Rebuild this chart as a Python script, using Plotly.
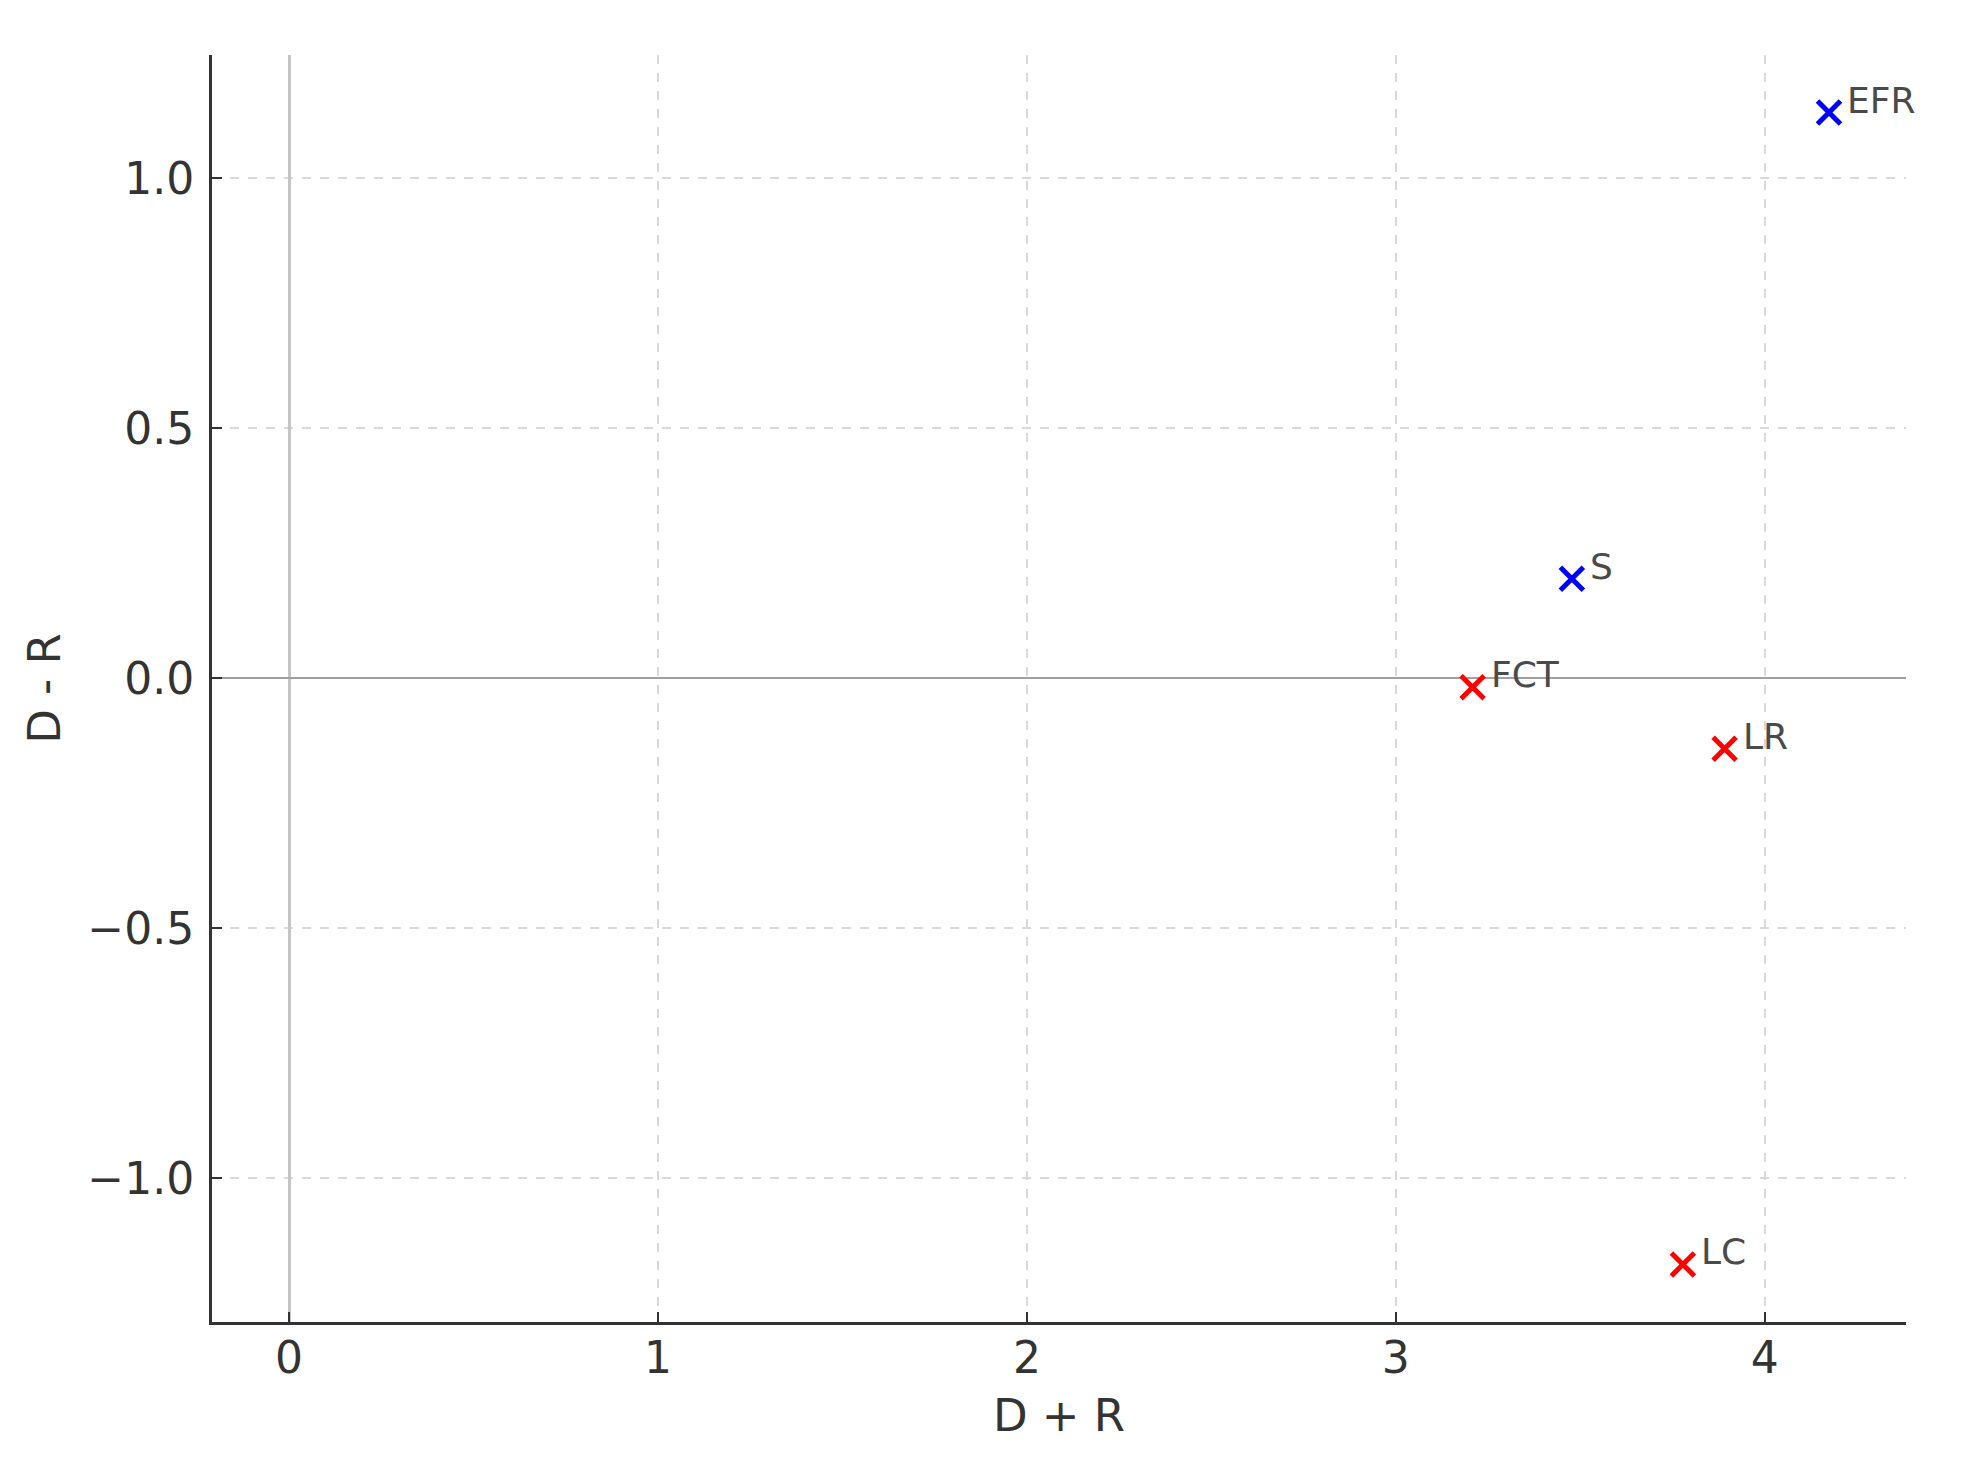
import plotly.graph_objects as go

# D+R / D-R values
labels = ["EFR", "S", "FCT", "LR", "LC"]
d_plus_r = [4.174, 3.477, 3.208, 3.891, 3.778]
d_minus_r = [1.131, 0.199, -0.018, -0.141, -1.172]
colors = ["blue", "blue", "red", "red", "red"]

x_ticks = [0, 1, 2, 3, 4]
y_ticks = [-1.0, -0.5, 0.0, 0.5, 1.0]
y_tick_text = ["\u22121.0", "\u22120.5", "0.0", "0.5", "1.0"]

# matplotlib style 5% margins
xmin, xmax = min(d_plus_r + [0]), max(d_plus_r)
ymin, ymax = min(d_minus_r), max(d_minus_r)
xr = [xmin - 0.05 * (xmax - xmin), xmax + 0.05 * (xmax - xmin)]
yr = [ymin - 0.05 * (ymax - ymin), ymax + 0.05 * (ymax - ymin)]

fig = go.Figure()
fig.add_trace(go.Scatter(
    x=d_plus_r, y=d_minus_r, mode="markers",
    marker=dict(symbol="x-thin", size=23, color=colors,
                line=dict(width=5, color=colors)),
    showlegend=False, hoverinfo="skip"))

for lab, x, y in zip(labels, d_plus_r, d_minus_r):
    fig.add_annotation(x=x, y=y, text=lab, showarrow=False,
                       xanchor="left", yanchor="bottom", xshift=16, yshift=-10,
                       font=dict(size=36, color="#4a4a4a"))

tick_font = dict(family="DejaVu Sans", size=44, color="#333")
title_font = dict(family="DejaVu Sans", size=45, color="#333")
fig.update_xaxes(
    range=xr, tickvals=x_ticks, ticks="inside", ticklen=10, tickwidth=2,
    tickcolor="#333", tickfont=tick_font, ticklabelstandoff=-5,
    showline=True, linecolor="#333", linewidth=3,
    showgrid=True, gridcolor="#d9d9d9", griddash="dash", gridwidth=1.5,
    zeroline=True, zerolinecolor="#c4c4c4", zerolinewidth=3,
    title=dict(text="D + R", font=title_font, standoff=18))
fig.update_yaxes(
    range=yr, tickvals=y_ticks, ticktext=y_tick_text, ticks="inside",
    ticklen=10, tickwidth=2, tickcolor="#333", tickfont=tick_font,
    ticklabelstandoff=6,
    showline=True, linecolor="#333", linewidth=3,
    showgrid=True, gridcolor="#d9d9d9", griddash="dash", gridwidth=1.5,
    zeroline=True, zerolinecolor="#a0a0a0", zerolinewidth=1.5,
    title=dict(text="D - R", font=title_font, standoff=13))

fig.update_layout(
    width=1974, height=1481,
    margin=dict(l=204, r=76, t=47, b=167),
    plot_bgcolor="white", paper_bgcolor="white",
    font=dict(family="DejaVu Sans"))

fig.write_html("out.html")
